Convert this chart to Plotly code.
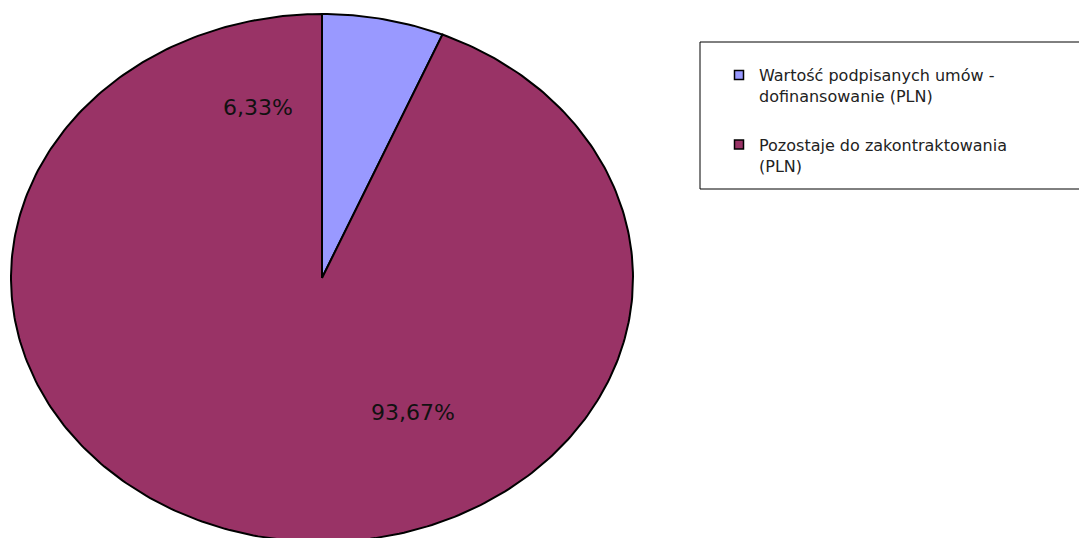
import numpy as np
import plotly.graph_objects as go

# ---- data ----
categories = ["Wartość podpisanych umów -<br>dofinansowanie (PLN)",
              "Pozostaje do zakontraktowania<br>(PLN)"]
values = [6.33, 93.67]
labels = ["6,33%", "93,67%"]
colors = ["#9999FF", "#993366"]
# label anchor points in unit-pie coordinates (x right, y up)
label_x = [-0.206, 0.293]
label_y = [0.644, -0.511]

fig = go.Figure()

total = sum(values)
start = 0.0
for i, v in enumerate(values):
    a0 = start / total * 2 * np.pi
    a1 = (start + v) / total * 2 * np.pi
    t = np.linspace(a0, a1, max(3, int(400 * v / total)))
    xs = np.concatenate([[0], np.sin(t), [0]])
    ys = np.concatenate([[0], np.cos(t), [0]])
    fig.add_trace(go.Scatter(x=xs, y=ys, mode="lines", fill="toself",
                             fillcolor=colors[i],
                             line=dict(color="black", width=2),
                             hoverinfo="skip", showlegend=False))
    start += v

for i, c in enumerate(categories):
    fig.add_trace(go.Scatter(x=[None], y=[None], mode="markers", name=c,
                             legendgroup=str(i),
                             marker=dict(symbol="square", size=9, color=colors[i],
                                         line=dict(color="black", width=1.5))))

for i, lab in enumerate(labels):
    fig.add_annotation(x=label_x[i], y=label_y[i], text=lab, showarrow=False,
                       font=dict(family="DejaVu Sans", size=22, color="#111"))

W, H = 1087, 538
OFF = 8  # page body margin
cx, cy, rx, ry = 322 - OFF, 278 - OFF, 311, 264
fig.update_xaxes(range=[-cx / rx, (W - cx) / rx], visible=False, fixedrange=True)
fig.update_yaxes(range=[(cy - H) / ry, cy / ry], visible=False, fixedrange=True)

fig.add_shape(type="rect", xref="paper", yref="paper",
              x0=(700 - OFF) / W, x1=(1100 - OFF) / W,
              y0=1 - (189 - OFF) / H, y1=1 - (42 - OFF) / H,
              line=dict(color="black", width=1), fillcolor="rgba(0,0,0,0)")

fig.update_layout(
    width=W, height=H,
    margin=dict(l=0, r=0, t=0, b=0),
    paper_bgcolor="white", plot_bgcolor="white",
    showlegend=True,
    legend=dict(x=(719 - OFF) / W, y=1 - (58 - OFF) / H, xanchor="left", yanchor="top",
                font=dict(family="DejaVu Sans", size=16, color="#222"),
                bgcolor="rgba(0,0,0,0)", tracegroupgap=25, itemwidth=30,
                valign="top"),
)

fig.write_html("out.html")
